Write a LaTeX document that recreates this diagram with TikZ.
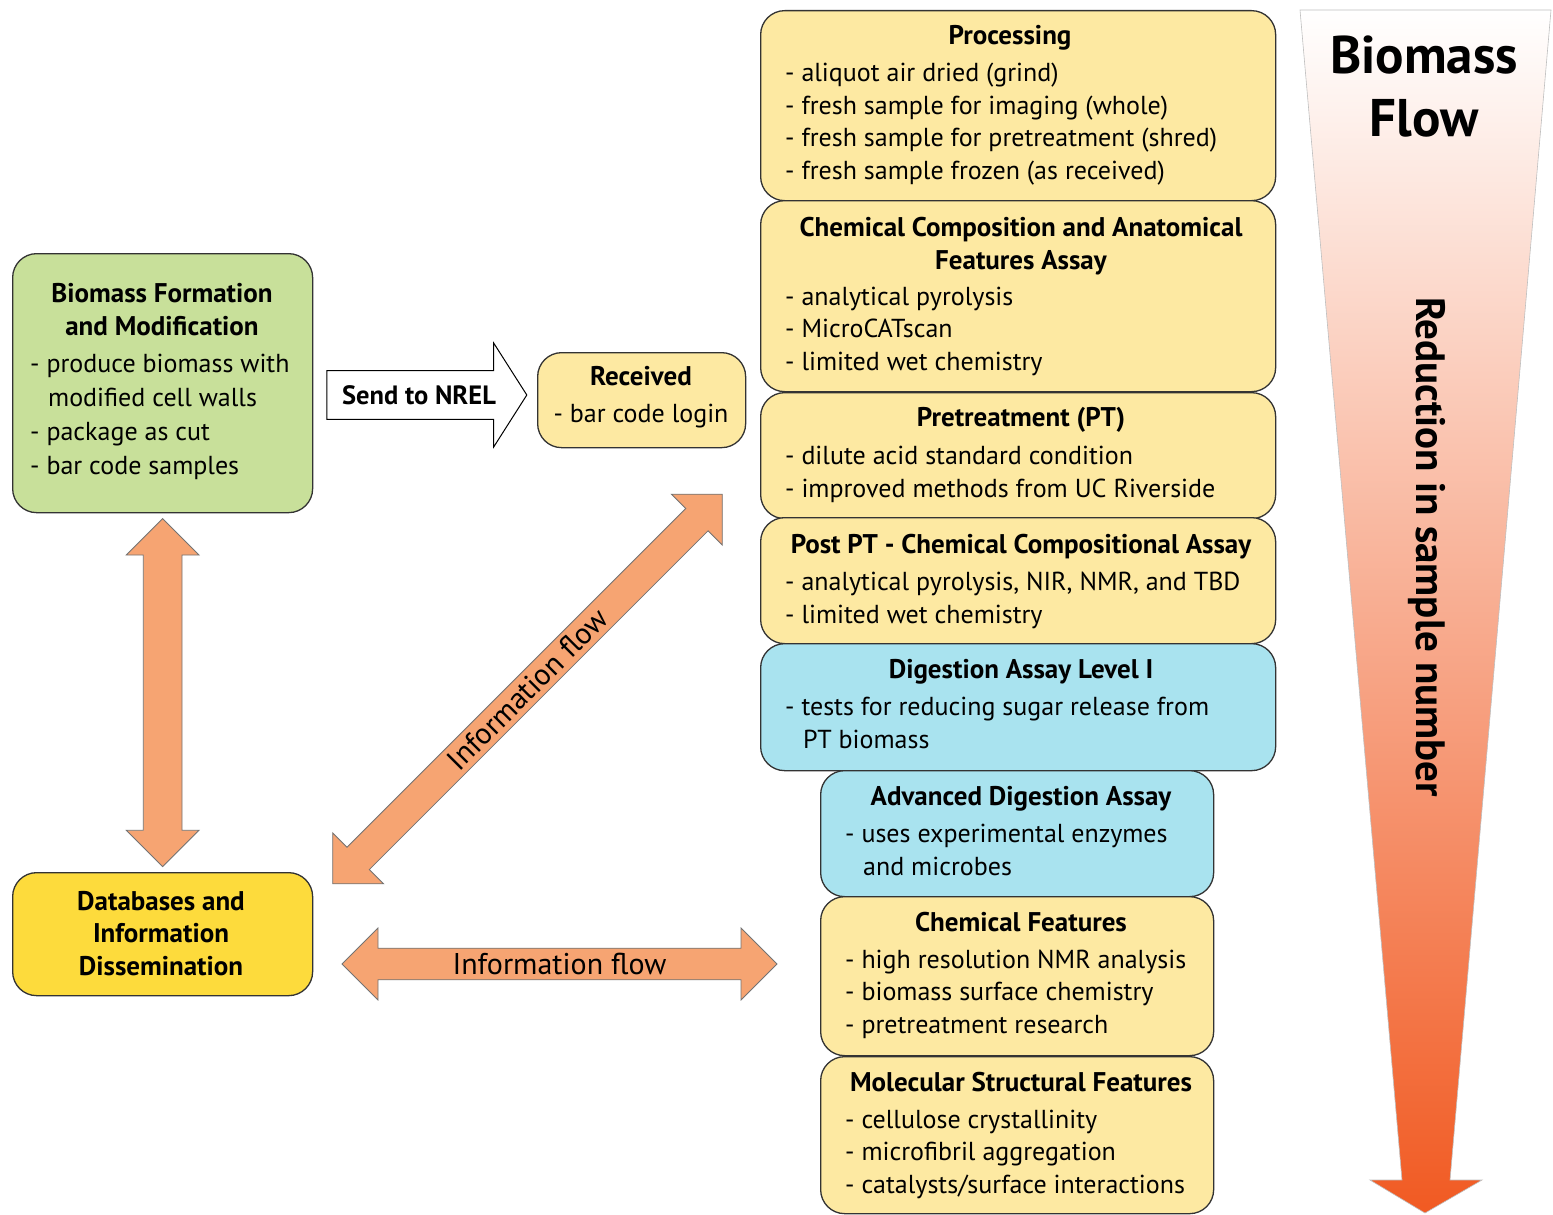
\documentclass[tikz,border=0pt]{standalone}
\usepackage{fontspec}
\setmainfont{PT Sans}
\usetikzlibrary{shapes.arrows,calc}

\definecolor{stageyellow}{HTML}{FDE9A2}
\definecolor{stageblue}{HTML}{A9E3EF}
\definecolor{stagegreen}{HTML}{C8E09A}
\definecolor{dbgold}{HTML}{FDDB3C}
\definecolor{flowsalmon}{HTML}{F6A472}
\definecolor{flowred}{HTML}{F15A22}

\tikzset{
  stage/.style={draw=black!80, line width=1.3pt, rounded corners=24pt, fill=stageyellow, inner sep=0pt, anchor=north west},
  % multi-line texts: base anchor sits on the last line
  ttl/.style={font=\fontsize{27}{32.5}\selectfont\bfseries, align=center, anchor=base, inner sep=0pt},
  lst/.style={font=\fontsize{26}{32.5}\selectfont, align=left, anchor=base west, inner sep=0pt},
  infoarrow/.style={double arrow, draw=black!55, fill=flowsalmon, line width=0.8pt, minimum width=72pt,
    double arrow head extend=17pt, inner xsep=0pt, inner ysep=2pt, font=\fontsize{30}{32}\selectfont}
}

\begin{document}
\begin{tikzpicture}[x=1pt, y=-1pt]
  \useasboundingbox (0,0) rectangle (1553,1215);

  % biomass flow arrow on the right
  \shade[top color=white, middle color={rgb,255:red,248;green,184;blue,156}, bottom color=flowred, draw=black!25, line width=0.6pt]
    (1300,10) -- (1551,10) -- (1450,1180) -- (1482,1180) -- (1425,1213) -- (1370,1180) -- (1402,1180) -- cycle;
  \node[font=\fontsize{53}{63}\selectfont\bfseries, align=center, anchor=base, inner sep=0pt] (flowT) at (1424,136) {Biomass\\Flow};
  \node[font=\fontsize{41}{44}\selectfont\bfseries, rotate=-90, inner sep=0pt] (flowR) at (1427,547) {Reduction in sample number};

  % stage boxes
  \node[stage, minimum width=515pt, minimum height=190pt] (proc) at (760,10) {};
  \node[stage, minimum width=515pt, minimum height=191pt] (chem) at (760,200) {};
  \node[stage, minimum width=515pt, minimum height=126pt] (pt) at (760,392) {};
  \node[stage, minimum width=515pt, minimum height=126pt] (post) at (760,517) {};
  \node[stage, fill=stageblue, minimum width=515pt, minimum height=127pt] (dig) at (760,643) {};
  \node[stage, fill=stageblue, minimum width=393pt, minimum height=126pt] (adv) at (820,770) {};
  \node[stage, minimum width=393pt, minimum height=159pt] (chemf) at (820,896) {};
  \node[stage, minimum width=393pt, minimum height=157pt] (mol) at (820,1056) {};
  \node[stage, fill=stagegreen, minimum width=300pt, minimum height=259pt] (bio) at (12,253) {};
  \node[stage, minimum width=208pt, minimum height=95pt] (rec) at (537,352) {};
  \node[stage, fill=dbgold, minimum width=300pt, minimum height=123pt] (db) at (12,872) {};

  % stage texts
  \node[ttl] (procT) at (1010,45) {Processing};
  \node[lst] (procL) at (785,179) {- aliquot air dried (grind)\\- fresh sample for imaging (whole)\\- fresh sample for pretreatment (shred)\\- fresh sample frozen (as received)};
  \node[ttl] (chemT) at (1021,269) {Chemical Composition and Anatomical\\Features Assay};
  \node[lst] (chemL) at (785,370) {- analytical pyrolysis\\- MicroCATscan\\- limited wet chemistry};
  \node[ttl] (ptT) at (1021,426) {Pretreatment (PT)};
  \node[lst] (ptL) at (785,497) {- dilute acid standard condition\\- improved methods from UC Riverside};
  \node[ttl] (postT) at (1021,553) {Post PT - Chemical Compositional Assay};
  \node[lst] (postL) at (785,623) {- analytical pyrolysis, NIR, NMR, and TBD\\- limited wet chemistry};
  \node[ttl] (digT) at (1021,678) {Digestion Assay Level I};
  \node[lst] (digL) at (785,748) {- tests for reducing sugar release from\\\hspace*{18pt}PT biomass};
  \node[ttl] (advT) at (1021,805) {Advanced Digestion Assay};
  \node[lst] (advL) at (845,875) {- uses experimental enzymes\\\hspace*{18pt}and microbes};
  \node[ttl] (chemfT) at (1021,931) {Chemical Features};
  \node[lst] (chemfL) at (845,1033) {- high resolution NMR analysis\\- biomass surface chemistry\\- pretreatment research};
  \node[ttl] (molT) at (1021,1091) {Molecular Structural Features};
  \node[lst] (molL) at (845,1193) {- cellulose crystallinity\\- microfibril aggregation\\- catalysts/surface interactions};
  \node[ttl] (bioT) at (162,335) {Biomass Formation\\and Modification};
  \node[lst, font=\fontsize{26}{34}\selectfont] (bioL) at (30,474) {- produce biomass with\\\hspace*{18pt}modified cell walls\\- package as cut\\- bar code samples};
  \node[ttl] (recT) at (641,385) {Received};
  \node[ttl, font=\fontsize{26}{32.5}\selectfont] (recL) at (641,422) {- bar code login};
  \node[ttl] (dbT) at (161,975) {Databases and\\Information\\Dissemination};

  % arrows between the boxes
  \node[single arrow, draw=black, fill=white, line width=1pt, minimum height=200pt, minimum width=104pt,
    single arrow head extend=26pt, single arrow tip angle=115, inner xsep=0pt, inner ysep=13pt,
    font=\fontsize{26.5}{30}\selectfont\bfseries] (send) at (419,395) {Send to NREL};
  \node[infoarrow, minimum height=348pt, inner ysep=19pt, rotate=90] (loop) at ($(bio.south)!0.5!(db.north)$) {};
  \node[infoarrow, minimum height=551pt, rotate=45] (info1) at (527.5,689) {Information flow};
  \node[infoarrow, minimum height=435pt] (info2) at (559.5,964) {Information flow};
\end{tikzpicture}
\end{document}
